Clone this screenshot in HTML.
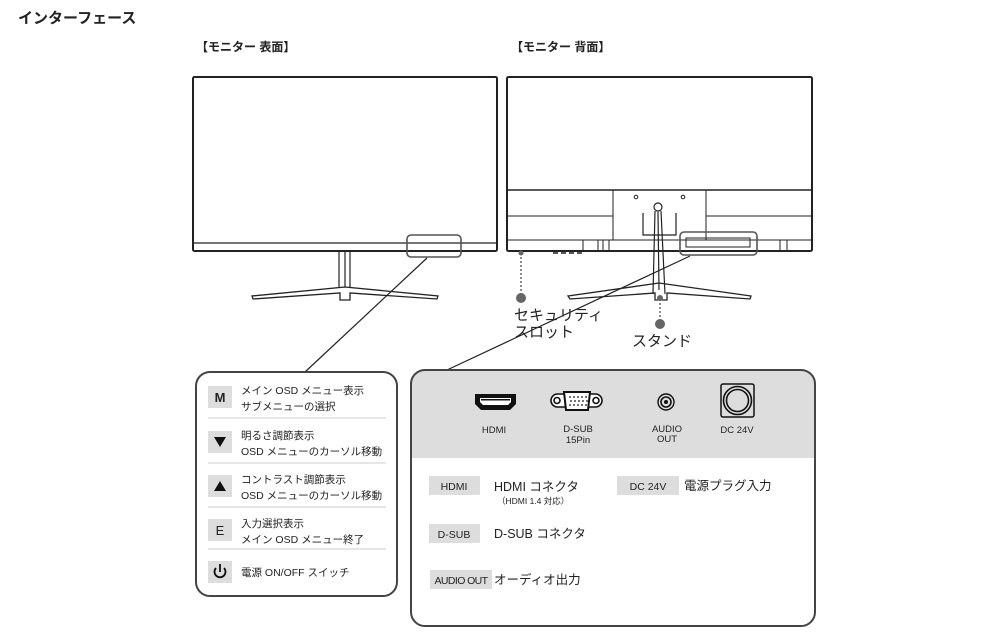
<!DOCTYPE html>
<html><head><meta charset="utf-8"><style>
body{margin:0;background:#fff;width:982px;height:636px;overflow:hidden}
svg text{font-family:"Liberation Sans","Noto Sans CJK JP",sans-serif;fill:#222}
</style></head><body>
<svg width="982" height="636" viewBox="0 0 982 636" xmlns="http://www.w3.org/2000/svg">
<text x="18" y="23" font-size="15" font-weight="bold">インターフェース</text>
<text x="196" y="51" font-size="12" font-weight="bold">【モニター 表面】</text>
<text x="511" y="51" font-size="12" font-weight="bold">【モニター 背面】</text>

<!-- front monitor -->
<g fill="none" stroke="#222" stroke-width="2">
<rect x="193" y="77" width="304" height="174" rx="1.5"/>
<line x1="193" y1="243" x2="497" y2="243" stroke-width="1.2"/>
<path d="M339 252 V289 M350 252 V289 M345 252 V298" stroke-width="1.2"/>
<path d="M345 287 L252 296 L253 299 L340 293 L340 300 L350 300 L350 293 L437 299 L438 296 Z" stroke-width="1.3" fill="#fff"/>
<rect x="407" y="235" width="54" height="22" rx="4" stroke="#555" stroke-width="1.6"/>
<path d="M418 251 h5 M426 251 h5 M434 251 h5 M442 251 h5 M450 251 h5" stroke-width="1.8"/>
<line x1="427" y1="258" x2="305" y2="372" stroke-width="1.2"/>
</g>

<!-- back monitor -->
<g fill="none" stroke="#222" stroke-width="2">
<rect x="507" y="77" width="305" height="174" rx="1.5"/>
<line x1="507" y1="190" x2="812" y2="190" stroke-width="1.4"/>
<path d="M613 190 V240 M706 190 V240 M507 216 H613 M706 216 H812 M507 240 H812" stroke-width="1"/>
<path d="M643 213 V235 H676 V213" stroke-width="1.2"/>
<circle cx="636" cy="197" r="1.8" stroke-width="1"/><circle cx="683" cy="197" r="1.8" stroke-width="1"/>
<circle cx="658" cy="207" r="4" stroke-width="1.2"/>
<path d="M583 240 V251 M598 240 V251 M603 240 V251 M609 240 V251 M780 240 V251 M787 240 V251" stroke-width="1"/>
<path d="M659 283 L568 296 L570 299 L655 293 L655 300 L667 300 L667 293 L750 299 L751 296 Z" stroke-width="1.3" fill="#fff"/>
<path d="M655 211 L653 294 M661 211 L665 294 M658 212 L659 290" stroke-width="1.2"/>
<rect x="680" y="232" width="77" height="23" rx="4" stroke="#555" stroke-width="1.6"/>
<path d="M686 238 H750 V247 H686 Z" stroke-width="1"/>
<path d="M553 253 h5 M561 253 h5 M569 253 h5 M577 253 h5" stroke-width="1.5"/>
<line x1="690" y1="256" x2="447" y2="370" stroke-width="1.2"/>
</g>
<g stroke="#666" stroke-width="1.5" stroke-dasharray="2 2">
<line x1="521" y1="253" x2="521" y2="296"/>
<line x1="660" y1="299" x2="660" y2="322"/>
</g>
<circle cx="521" cy="253" r="2.5" fill="#666"/>
<circle cx="521" cy="298" r="5" fill="#666"/>
<circle cx="660" cy="298" r="3" fill="#666"/>
<circle cx="660" cy="324" r="5" fill="#666"/>
<text x="514" y="320" font-size="15">セキュリティ</text>
<text x="514" y="337" font-size="15">スロット</text>
<text x="632" y="346" font-size="15">スタンド</text>

<!-- left panel -->
<rect x="196" y="372" width="201" height="224" rx="14" fill="#fff" stroke="#444" stroke-width="2"/>
<g fill="#ddd">
<rect x="208" y="386" width="24" height="22"/>
<rect x="208" y="431" width="24" height="22"/>
<rect x="208" y="475" width="24" height="22"/>
<rect x="208" y="519" width="24" height="22"/>
<rect x="208" y="561" width="24" height="22"/>
</g>
<g stroke="#ccc" stroke-width="1">
<line x1="208" y1="418" x2="386" y2="418"/>
<line x1="208" y1="463" x2="386" y2="463"/>
<line x1="208" y1="507" x2="386" y2="507"/>
<line x1="208" y1="549" x2="386" y2="549"/>
</g>
<text x="220" y="402" font-size="13" text-anchor="middle" font-weight="bold">M</text>
<path d="M214 437 L226 437 L220 447 Z" fill="#111"/>
<path d="M214 491 L226 491 L220 481 Z" fill="#111"/>
<text x="220" y="535" font-size="13" text-anchor="middle">E</text>
<path d="M216 568 A5.5 5.5 0 1 0 224 568" fill="none" stroke="#111" stroke-width="1.8"/>
<line x1="220" y1="564" x2="220" y2="572" stroke="#111" stroke-width="1.8"/>
<g font-size="10.5">
<text x="241" y="394">メイン OSD メニュー表示</text>
<text x="241" y="410">サブメニューの選択</text>
<text x="241" y="439">明るさ調節表示</text>
<text x="241" y="455">OSD メニューのカーソル移動</text>
<text x="241" y="483">コントラスト調節表示</text>
<text x="241" y="499">OSD メニューのカーソル移動</text>
<text x="241" y="527">入力選択表示</text>
<text x="241" y="543">メイン OSD メニュー終了</text>
<text x="241" y="576">電源 ON/OFF スイッチ</text>
</g>

<!-- right panel -->
<clipPath id="c"><rect x="411" y="370" width="404" height="256" rx="14"/></clipPath>
<rect x="411" y="370" width="404" height="88" fill="#ddd" clip-path="url(#c)"/>
<rect x="411" y="370" width="404" height="256" rx="14" fill="none" stroke="#444" stroke-width="2"/>
<!-- icons -->
<path d="M475 394 H516 V404 L510 410 H481 L475 404 Z" fill="#111"/>
<path d="M480 398 H511 V402 L508 405 H483 L480 402 Z" fill="#fff"/>
<rect x="481" y="399" width="29" height="1.5" fill="#111"/>
<g fill="none" stroke="#111" stroke-width="1.6">
<rect x="551" y="394" width="51" height="13" rx="6.5" fill="#fff"/>
<circle cx="557" cy="400.5" r="3"/><circle cx="596" cy="400.5" r="3"/>
<path d="M564 392 H590 L588 410 H566 Z" fill="#fff" stroke-width="2"/>
<circle cx="666" cy="402" r="8" stroke-width="1.4"/><circle cx="666" cy="402" r="5"/>
<rect x="721" y="384" width="33" height="33" rx="2" stroke-width="1.5"/>
<circle cx="737.5" cy="400.5" r="14"/><circle cx="737.5" cy="400.5" r="11"/>
</g>
<g fill="#111">
<circle cx="570" cy="397" r="0.9"/><circle cx="574" cy="397" r="0.9"/><circle cx="578" cy="397" r="0.9"/><circle cx="582" cy="397" r="0.9"/><circle cx="586" cy="397" r="0.9"/>
<circle cx="571" cy="401" r="0.9"/><circle cx="575" cy="401" r="0.9"/><circle cx="579" cy="401" r="0.9"/><circle cx="583" cy="401" r="0.9"/><circle cx="587" cy="401" r="0.9"/>
<circle cx="570" cy="405" r="0.9"/><circle cx="574" cy="405" r="0.9"/><circle cx="578" cy="405" r="0.9"/><circle cx="582" cy="405" r="0.9"/><circle cx="586" cy="405" r="0.9"/>
</g>
<circle cx="666" cy="402" r="2" fill="#111"/>
<g font-size="9.5" text-anchor="middle">
<text x="494" y="433">HDMI</text>
<text x="578" y="432">D-SUB</text><text x="578" y="443">15Pin</text>
<text x="667" y="432">AUDIO</text><text x="667" y="442">OUT</text>
<text x="737" y="433">DC 24V</text>
</g>
<g fill="#ddd">
<rect x="429" y="476" width="51" height="19"/>
<rect x="429" y="524" width="51" height="19"/>
<rect x="430" y="570" width="62" height="19"/>
<rect x="617" y="476" width="62" height="19"/>
</g>
<g font-size="10.5" text-anchor="middle">
<text x="454" y="490">HDMI</text>
<text x="454" y="538">D-SUB</text>
<text x="461" y="584" letter-spacing="-0.6">AUDIO OUT</text>
<text x="648" y="490">DC 24V</text>
</g>
<g font-size="12.5">
<text x="494" y="491">HDMI コネクタ</text>
<text x="497" y="504" font-size="8.5">（HDMI 1.4 対応）</text>
<text x="494" y="538">D-SUB コネクタ</text>
<text x="494" y="584">オーディオ出力</text>
<text x="684" y="490">電源プラグ入力</text>
</g>
</svg>
</body></html>
